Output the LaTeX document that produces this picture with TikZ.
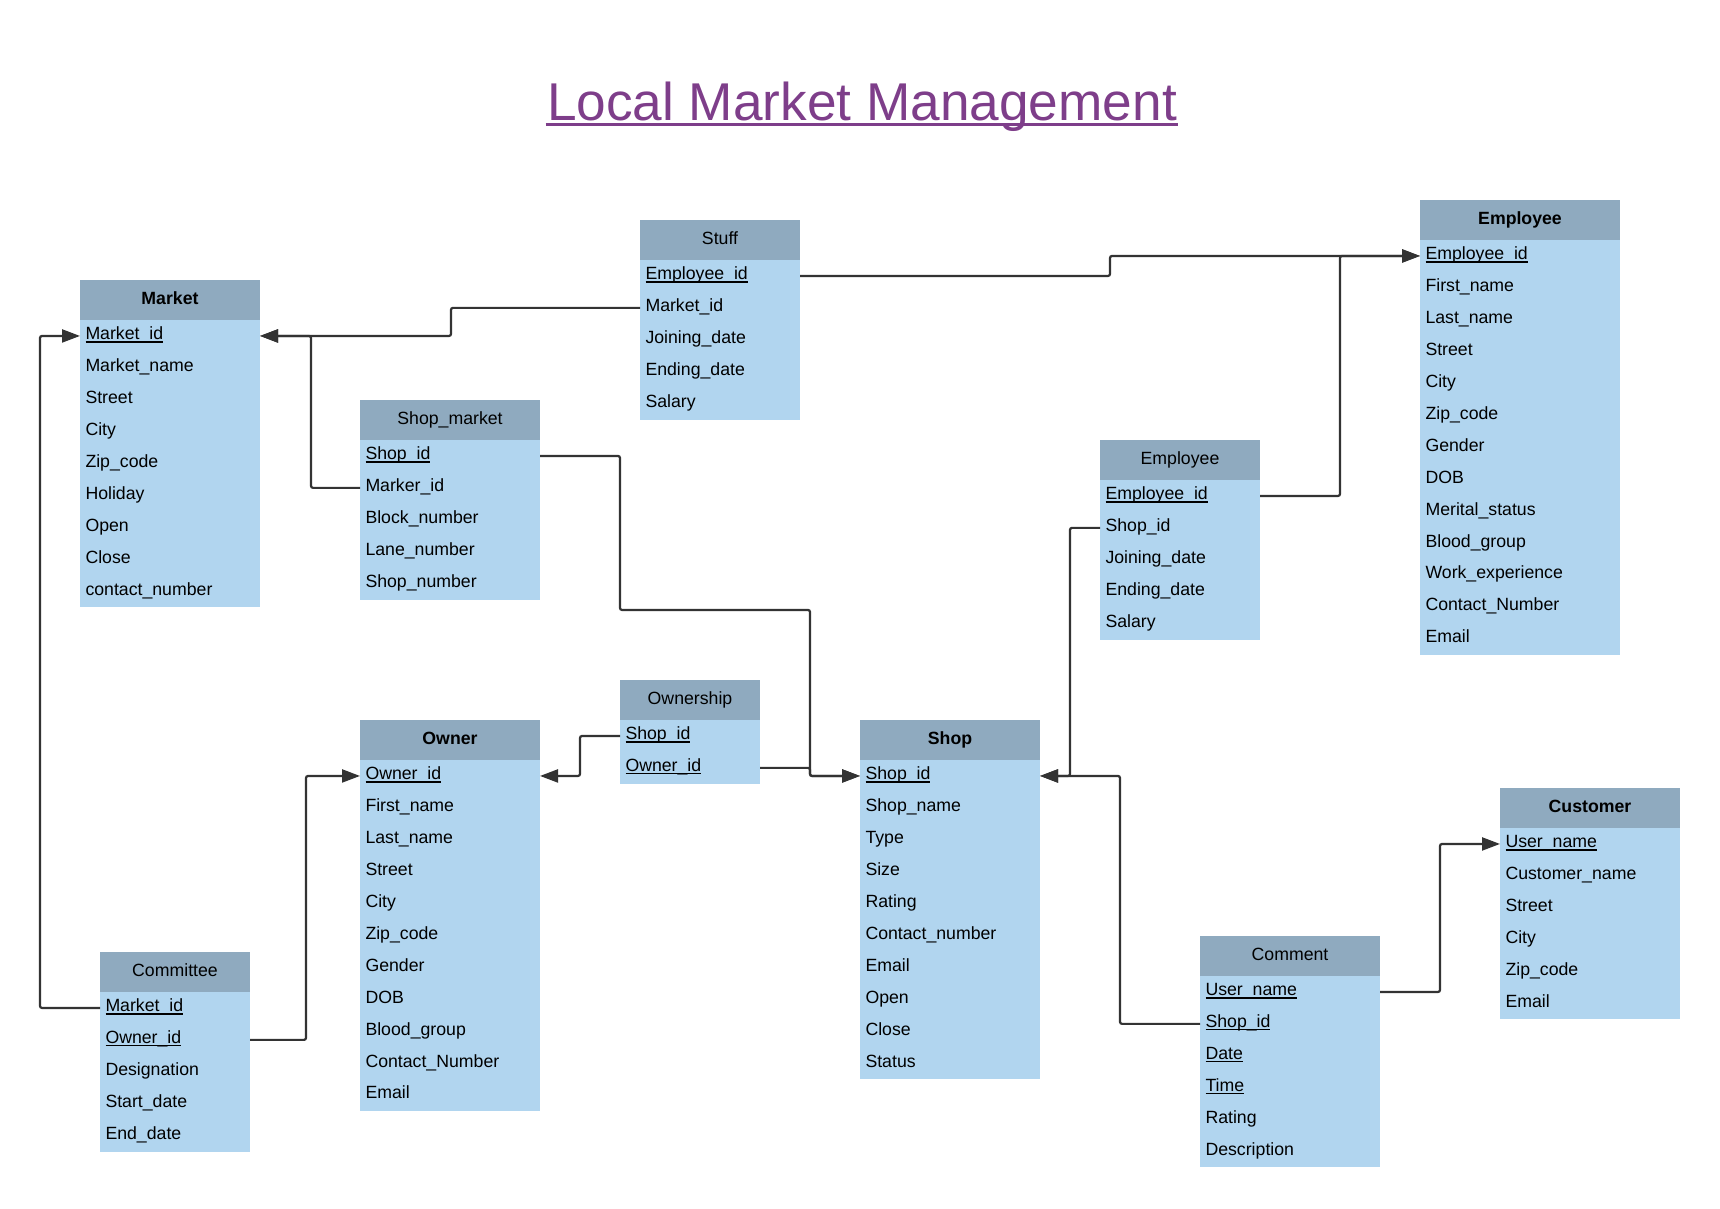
\documentclass[tikz,border=0pt]{standalone}
\usepackage{fontspec}
\setmainfont{Liberation Sans}
\usetikzlibrary{positioning, arrows.meta}
\definecolor{hdc}{RGB}{143,170,191}
\definecolor{fdc}{RGB}{177,213,239}
\definecolor{lnc}{RGB}{51,51,51}
\definecolor{ttc}{RGB}{126,62,138}
\newcommand\fsz{\fontsize{17.7}{21}\selectfont}
\newcommand\ukey[1]{\setbox0\hbox{#1}\rlap{\rule[-2.6pt]{\wd0}{1.6pt}}\box0}
\newcommand\uttl[1]{\setbox0\hbox{#1}\rlap{\kern-1.5pt\rule[-6pt]{\dimexpr\wd0+3pt\relax}{3.3pt}}\box0}
\tikzset{%
  hd/.style={fill=hdc, text width=#1, align=center, minimum height=40pt,
    inner xsep=5.5pt, inner ysep=0pt, outer sep=0pt,
    text height=12.7pt, text depth=4.7pt, font=\fsz},
  hdb/.style={hd=#1, font=\fsz\bfseries},
  fd/.style={hd=#1, fill=fdc, align=left, minimum height=31.9pt},
  lnk/.style={-{Triangle[length=18pt,width=13pt]}, draw=lnc, color=lnc,
    line width=2.2pt, rounded corners=2pt}
}

\begin{document}
\begin{tikzpicture}[x=1pt, y=-1pt]
        \useasboundingbox (0,0) rectangle (1720,1208);
        \node (ttl) at (862,120) [anchor=base, text=ttc, font=\fontsize{53.2}{60}\selectfont]
          {\uttl{Local Market Management}};
        % Market
        \node[hdb=169pt] (mk) at (80,280) [anchor=north west] {Market};
        \node[fd=169pt] (mk1) [below = 0pt of mk]  {\ukey{Market\_id}};
        \node[fd=169pt] (mk2) [below = 0pt of mk1] {Market\_name};
        \node[fd=169pt] (mk3) [below = 0pt of mk2] {Street};
        \node[fd=169pt] (mk4) [below = 0pt of mk3] {City};
        \node[fd=169pt] (mk5) [below = 0pt of mk4] {Zip\_code};
        \node[fd=169pt] (mk6) [below = 0pt of mk5] {Holiday};
        \node[fd=169pt] (mk7) [below = 0pt of mk6] {Open};
        \node[fd=169pt] (mk8) [below = 0pt of mk7] {Close};
        \node[fd=169pt] (mk9) [below = 0pt of mk8] {contact\_number};
        % Stuff
        \node[hd=149pt] (sf) at (640,220) [anchor=north west] {Stuff};
        \node[fd=149pt] (sf1) [below = 0pt of sf]  {\ukey{Employee\_id}};
        \node[fd=149pt] (sf2) [below = 0pt of sf1] {Market\_id};
        \node[fd=149pt] (sf3) [below = 0pt of sf2] {Joining\_date};
        \node[fd=149pt] (sf4) [below = 0pt of sf3] {Ending\_date};
        \node[fd=149pt] (sf5) [below = 0pt of sf4] {Salary};
        % Employee
        \node[hdb=189pt] (em) at (1420,200) [anchor=north west] {Employee};
        \node[fd=189pt] (em1)  [below = 0pt of em]   {\ukey{Employee\_id}};
        \node[fd=189pt] (em2)  [below = 0pt of em1]  {First\_name};
        \node[fd=189pt] (em3)  [below = 0pt of em2]  {Last\_name};
        \node[fd=189pt] (em4)  [below = 0pt of em3]  {Street};
        \node[fd=189pt] (em5)  [below = 0pt of em4]  {City};
        \node[fd=189pt] (em6)  [below = 0pt of em5]  {Zip\_code};
        \node[fd=189pt] (em7)  [below = 0pt of em6]  {Gender};
        \node[fd=189pt] (em8)  [below = 0pt of em7]  {DOB};
        \node[fd=189pt] (em9)  [below = 0pt of em8]  {Merital\_status};
        \node[fd=189pt] (em10) [below = 0pt of em9]  {Blood\_group};
        \node[fd=189pt] (em11) [below = 0pt of em10] {Work\_experience};
        \node[fd=189pt] (em12) [below = 0pt of em11] {Contact\_Number};
        \node[fd=189pt] (em13) [below = 0pt of em12] {Email};
        % Shop_market
        \node[hd=169pt] (sm) at (360,400) [anchor=north west] {Shop\_market};
        \node[fd=169pt] (sm1) [below = 0pt of sm]  {\ukey{Shop\_id}};
        \node[fd=169pt] (sm2) [below = 0pt of sm1] {Marker\_id};
        \node[fd=169pt] (sm3) [below = 0pt of sm2] {Block\_number};
        \node[fd=169pt] (sm4) [below = 0pt of sm3] {Lane\_number};
        \node[fd=169pt] (sm5) [below = 0pt of sm4] {Shop\_number};
        % Employee of a shop
        \node[hd=149pt] (es) at (1100,440) [anchor=north west] {Employee};
        \node[fd=149pt] (es1) [below = 0pt of es]  {\ukey{Employee\_id}};
        \node[fd=149pt] (es2) [below = 0pt of es1] {Shop\_id};
        \node[fd=149pt] (es3) [below = 0pt of es2] {Joining\_date};
        \node[fd=149pt] (es4) [below = 0pt of es3] {Ending\_date};
        \node[fd=149pt] (es5) [below = 0pt of es4] {Salary};
        % Ownership
        \node[hd=129pt] (os) at (620,680) [anchor=north west] {Ownership};
        \node[fd=129pt] (os1) [below = 0pt of os]  {\ukey{Shop\_id}};
        \node[fd=129pt] (os2) [below = 0pt of os1] {\ukey{Owner\_id}};
        % Owner
        \node[hdb=169pt] (ow) at (360,720) [anchor=north west] {Owner};
        \node[fd=169pt] (ow1)  [below = 0pt of ow]   {\ukey{Owner\_id}};
        \node[fd=169pt] (ow2)  [below = 0pt of ow1]  {First\_name};
        \node[fd=169pt] (ow3)  [below = 0pt of ow2]  {Last\_name};
        \node[fd=169pt] (ow4)  [below = 0pt of ow3]  {Street};
        \node[fd=169pt] (ow5)  [below = 0pt of ow4]  {City};
        \node[fd=169pt] (ow6)  [below = 0pt of ow5]  {Zip\_code};
        \node[fd=169pt] (ow7)  [below = 0pt of ow6]  {Gender};
        \node[fd=169pt] (ow8)  [below = 0pt of ow7]  {DOB};
        \node[fd=169pt] (ow9)  [below = 0pt of ow8]  {Blood\_group};
        \node[fd=169pt] (ow10) [below = 0pt of ow9]  {Contact\_Number};
        \node[fd=169pt] (ow11) [below = 0pt of ow10] {Email};
        % Shop
        \node[hdb=169pt] (sh) at (860,720) [anchor=north west] {Shop};
        \node[fd=169pt] (sh1)  [below = 0pt of sh]  {\ukey{Shop\_id}};
        \node[fd=169pt] (sh2)  [below = 0pt of sh1] {Shop\_name};
        \node[fd=169pt] (sh3)  [below = 0pt of sh2] {Type};
        \node[fd=169pt] (sh4)  [below = 0pt of sh3] {Size};
        \node[fd=169pt] (sh5)  [below = 0pt of sh4] {Rating};
        \node[fd=169pt] (sh6)  [below = 0pt of sh5] {Contact\_number};
        \node[fd=169pt] (sh7)  [below = 0pt of sh6] {Email};
        \node[fd=169pt] (sh8)  [below = 0pt of sh7] {Open};
        \node[fd=169pt] (sh9)  [below = 0pt of sh8] {Close};
        \node[fd=169pt] (sh10) [below = 0pt of sh9] {Status};
        % Customer
        \node[hdb=169pt] (cu) at (1500,788) [anchor=north west] {Customer};
        \node[fd=169pt] (cu1) [below = 0pt of cu]  {\ukey{User\_name}};
        \node[fd=169pt] (cu2) [below = 0pt of cu1] {Customer\_name};
        \node[fd=169pt] (cu3) [below = 0pt of cu2] {Street};
        \node[fd=169pt] (cu4) [below = 0pt of cu3] {City};
        \node[fd=169pt] (cu5) [below = 0pt of cu4] {Zip\_code};
        \node[fd=169pt] (cu6) [below = 0pt of cu5] {Email};
        % Comment
        \node[hd=169pt] (ct) at (1200,936) [anchor=north west] {Comment};
        \node[fd=169pt] (ct1) [below = 0pt of ct]  {\ukey{User\_name}};
        \node[fd=169pt] (ct2) [below = 0pt of ct1] {\ukey{Shop\_id}};
        \node[fd=169pt] (ct3) [below = 0pt of ct2] {\ukey{Date}};
        \node[fd=169pt] (ct4) [below = 0pt of ct3] {\ukey{Time}};
        \node[fd=169pt] (ct5) [below = 0pt of ct4] {Rating};
        \node[fd=169pt] (ct6) [below = 0pt of ct5] {Description};
        % Committee
        \node[hd=139pt] (cm) at (100,952) [anchor=north west] {Committee};
        \node[fd=139pt] (cm1) [below = 0pt of cm]  {\ukey{Market\_id}};
        \node[fd=139pt] (cm2) [below = 0pt of cm1] {\ukey{Owner\_id}};
        \node[fd=139pt] (cm3) [below = 0pt of cm2] {Designation};
        \node[fd=139pt] (cm4) [below = 0pt of cm3] {Start\_date};
        \node[fd=139pt] (cm5) [below = 0pt of cm4] {End\_date};
        % links
        \draw[lnk] (sf1.east) -- ++(310,0) |- (em1.west);
        \draw[lnk] (es1.east) -- ++(80,0) |- (em1.west);
        \draw[lnk] (sf2.west) -- ++(-189,0) |- (mk1.east);
        \draw[lnk] (sm2.west) -- ++(-49,0) |- (mk1.east);
        \draw[lnk] (cm1.west) -- ++(-60,0) |- (mk1.west);
        \draw[lnk] (cm2.east) -- ++(56,0) |- (ow1.west);
        \draw[lnk] (os1.west) -- ++(-40,0) |- (ow1.east);
        \draw[lnk] (os2.east) -- ++(50,0) |- (sh1.west);
        \draw[lnk] (sm1.east) -| ++(80,154) -- ++(190,0) |- (sh1.west);
        \draw[lnk] (es2.west) -- ++(-30,0) |- (sh1.east);
        \draw[lnk] (ct2.west) -- ++(-80,0) |- (sh1.east);
        \draw[lnk] (ct1.east) -- ++(60,0) |- (cu1.west);
      \end{tikzpicture}
\end{document}
